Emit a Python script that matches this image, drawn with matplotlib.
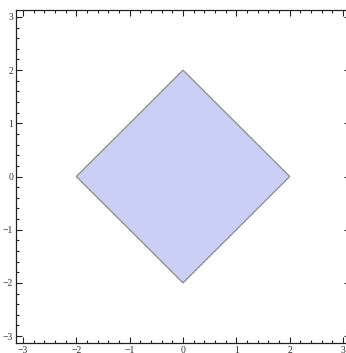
import numpy as np
import matplotlib
matplotlib.use("Agg")
import matplotlib.pyplot as plt
from matplotlib.ticker import MultipleLocator

# Region |x| + |y| <= 2, outlined by its corner points
corner_x = [2, 0, -2, 0]
corner_y = [0, 2, 0, -2]
tick_values = [-3, -2, -1, 0, 1, 2, 3]
tick_labels = ["\u22123", "\u22122", "\u22121", "0", "1", "2", "3"]

fig = plt.figure(figsize=(3.46, 3.53), dpi=100)
ax = fig.add_axes([16 / 346, 10 / 353, 334 / 346, 333 / 353])

ax.fill(corner_x, corner_y, facecolor="#cbcff5", edgecolor="#8a8a8a",
        linewidth=0.9, zorder=2)

ax.set_xlim(-3.13, 3.13)
ax.set_ylim(-3.13, 3.13)

ax.set_xticks(tick_values)
ax.set_yticks(tick_values)
ax.set_xticklabels(tick_labels)
ax.set_yticklabels(tick_labels)
ax.xaxis.set_minor_locator(MultipleLocator(0.2))
ax.yaxis.set_minor_locator(MultipleLocator(0.2))

ax.tick_params(which="both", direction="in", top=True, right=True,
               color="#222222", width=0.8)
ax.tick_params(which="major", length=4, pad=2, labelsize=7,
               labelcolor="#333333")
ax.tick_params(which="minor", length=2.2)
for lbl in ax.get_xticklabels() + ax.get_yticklabels():
    lbl.set_family("Liberation Serif")

for spine in ax.spines.values():
    spine.set_linewidth(0.9)
    spine.set_color("#222222")

fig.savefig("out.png", dpi=100)
